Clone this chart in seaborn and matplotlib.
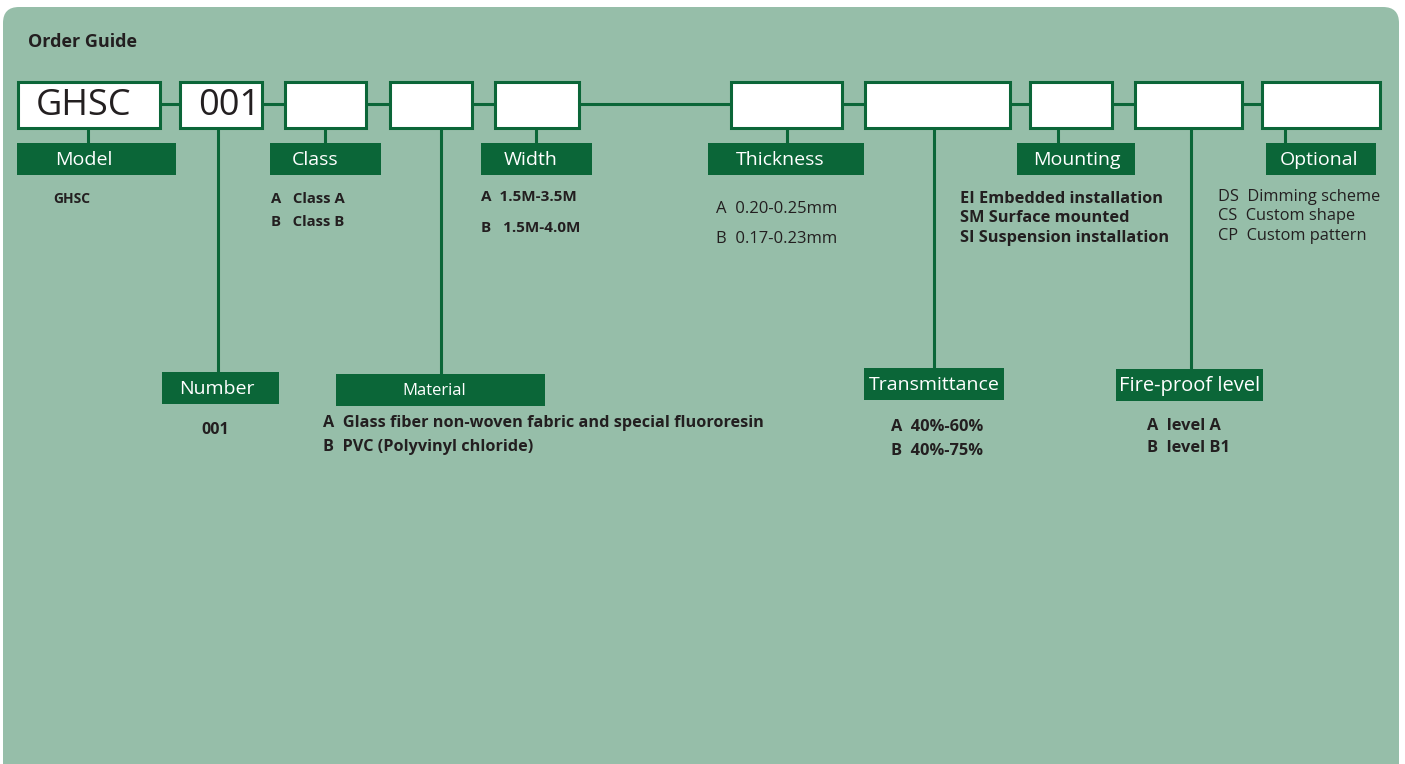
import matplotlib
matplotlib.use("Agg")
import matplotlib.pyplot as plt
from matplotlib.patches import Rectangle, FancyBboxPatch
import seaborn as sns
import pandas as pd

sns.set_theme(style="white")
plt.rcParams['font.family'] = ['Open Sans', 'DejaVu Sans']

BG = '#96bea9'
DARK = '#0b6638'
INK = '#231f20'

title = "Order Guide"

# code boxes along the top row
box_text = ["GHSC", "001", "", "", "", "", "", "", "", ""]
box_x0 = [18, 180, 285, 390, 495, 731, 865, 1030, 1135, 1262]
box_x1 = [160, 262, 366, 472, 579, 842, 1010, 1112, 1242, 1380]

# labels hanging just under the boxes
upper_names = ["Model", "Class", "Width", "Thickness", "Mounting", "Optional"]
upper_stub_x = [88, 325, 536, 787, 1058, 1285]
upper_lx0 = [17, 270, 481, 708, 1017, 1266]
upper_lx1 = [176, 381, 592, 864, 1135, 1376]
upper_tx = [84, 315, 531, 780, 1077, 1319]

# labels hanging low on long lines
lower_names = ["Number", "Material", "Transmittance", "Fire-proof level"]
lower_line_x = [218, 441, 934, 1191]
lower_lx0 = [162, 336, 864, 1116]
lower_lx1 = [279, 545, 1004, 1263]
lower_ly0 = [372, 374, 368, 369]
lower_tx = [217, 434, 934, 1190]
lower_fs = [14, 12, 14, 14.5]

# option texts
model_opts = ["GHSC"]
class_opts = ["A   Class A", "B   Class B"]
width_opts = ["A  1.5M-3.5M", "B   1.5M-4.0M"]
thick_opts = ["A  0.20-0.25mm", "B  0.17-0.23mm"]
mount_opts = ["EI Embedded installation", "SM Surface mounted", "SI Suspension installation"]
optional_opts = ["DS  Dimming scheme", "CS  Custom shape", "CP  Custom pattern"]
number_opts = ["001"]
material_opts = ["A  Glass fiber non-woven fabric and special fluororesin",
                 "B  PVC (Polyvinyl chloride)"]
trans_opts = ["A  40%-60%", "B  40%-75%"]
fire_opts = ["A  level A", "B  level B1"]

fig = plt.figure(figsize=(14.05, 7.64), dpi=100)
ax = fig.add_axes([0, 0, 1, 1])
ax.set_xlim(0, 1405)
ax.set_ylim(764, 0)
ax.axis('off')
fig.patch.set_facecolor('white')

ax.add_patch(FancyBboxPatch((3, 7), 1396, 790, boxstyle="round,pad=0,rounding_size=16",
                            facecolor=BG, edgecolor='none', zorder=0))

ax.text(28, 42, title, fontsize=13, fontweight='bold', color=INK, va='center')

# connector spine
spine = pd.DataFrame({'x': [box_x1[0], box_x0[-1]], 'y': [104, 104]})
sns.lineplot(data=spine, x='x', y='y', ax=ax, color=DARK, lw=2.2, zorder=1)

for t, x0, x1 in zip(box_text, box_x0, box_x1):
    ax.add_patch(Rectangle((x0, 82), x1 - x0, 46, facecolor='white', edgecolor=DARK,
                           lw=2.2, zorder=3))
    if t:
        ax.text(x0 + 18, 106, t, fontsize=26, color=INK, va='center', zorder=4)

for name, sx, lx0, lx1, tx in zip(upper_names, upper_stub_x, upper_lx0, upper_lx1, upper_tx):
    ax.plot([sx, sx], [128, 144], color=DARK, lw=2.2, zorder=2)
    ax.add_patch(Rectangle((lx0, 143), lx1 - lx0, 32, facecolor=DARK, edgecolor='none', zorder=3))
    ax.text(tx, 160, name, fontsize=14, color='white', ha='center', va='center', zorder=4)

for name, lx, lx0, lx1, ly0, tx, fs in zip(lower_names, lower_line_x, lower_lx0, lower_lx1,
                                           lower_ly0, lower_tx, lower_fs):
    ax.plot([lx, lx], [128, ly0 + 1], color=DARK, lw=2.2, zorder=2)
    ax.add_patch(Rectangle((lx0, ly0), lx1 - lx0, 32, facecolor=DARK, edgecolor='none', zorder=3))
    ax.text(tx, ly0 + 17, name, fontsize=fs, color='white', ha='center', va='center', zorder=4)


def opts(lines, x, ys, bold=True, size=11):
    for s, y in zip(lines, ys):
        ax.text(x, y, s, fontsize=size, color=INK, va='center',
                fontweight='bold' if bold else 'normal', zorder=4)


opts(model_opts, 53, [199], size=10)
opts(class_opts, 271, [199, 222], size=10.7)
opts(width_opts, 481, [197, 228], size=11)
opts(thick_opts, 716, [209, 239], bold=False, size=12)
opts(mount_opts, 960, [199, 218, 238], size=11.8)
opts(optional_opts, 1218, [197, 216, 236], bold=False, size=11.8)
opts(number_opts, 201, [430], size=11.5)
opts(material_opts, 323, [423, 447], size=11.7)
opts(trans_opts, 891, [427, 451], size=11.8)
opts(fire_opts, 1147, [426, 448], size=11.8)

fig.savefig("out.png", dpi=100)
